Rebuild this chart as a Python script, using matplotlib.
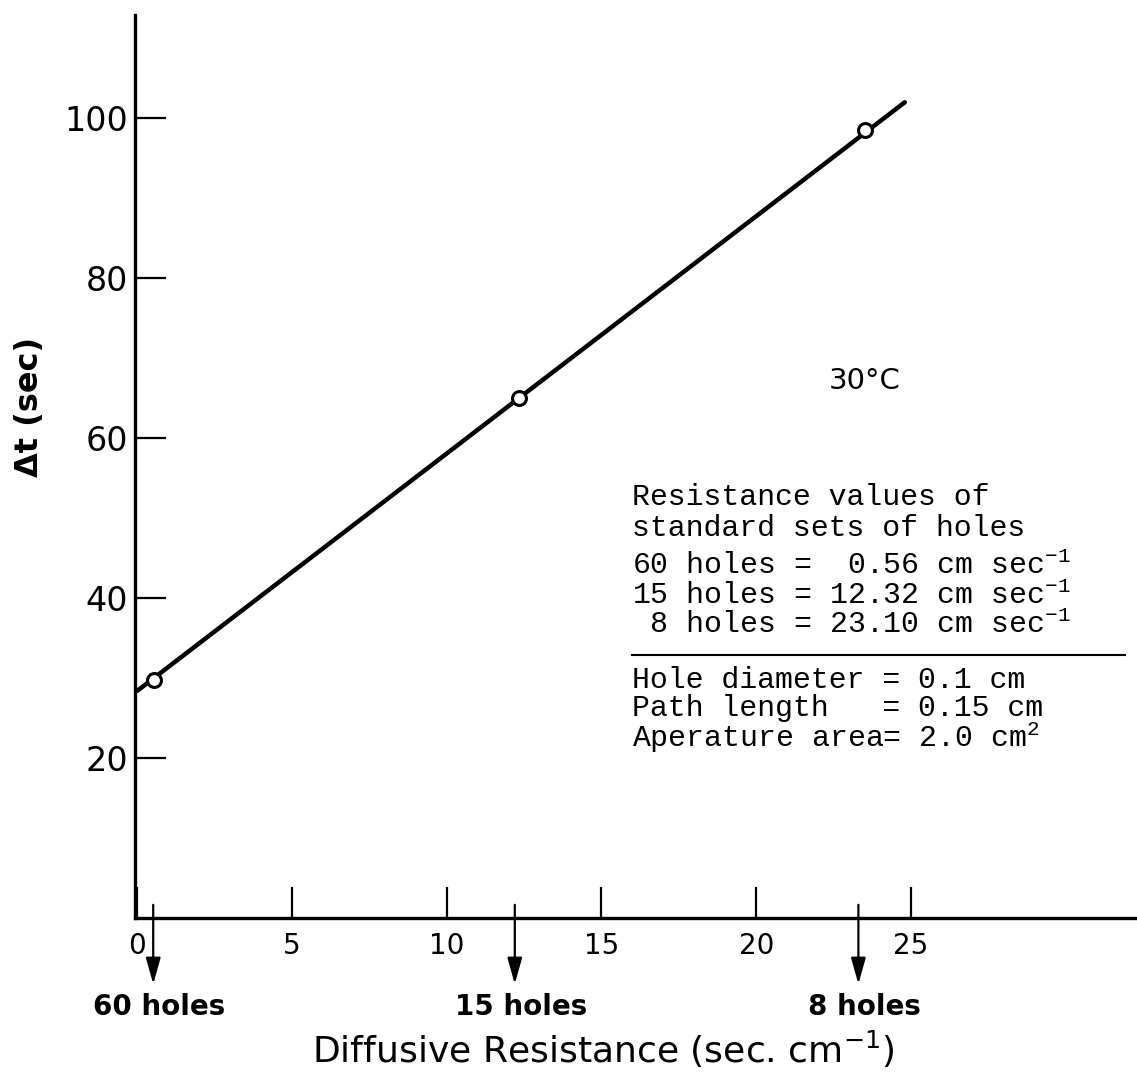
import matplotlib
matplotlib.use("Agg")
import matplotlib.pyplot as plt

plt.rcParams['mathtext.default'] = 'regular'

# measured points (resistance, delta t)
resistance = [0.56, 12.34, 23.5]
delta_t = [29.8, 65.0, 98.5]

# fitted line drawn on the graph
line_x = [0.0, 24.8]
line_y = [28.4, 102.0]

# standard hole sets marked under the axis
hole_sets = ["60 holes", "15 holes", "8 holes"]
hole_res = [0.52, 12.2, 23.3]

x_ticks = [0, 5, 10, 15, 20, 25]
y_ticks = [20, 40, 60, 80, 100]

note_lines = [
    "Resistance values of",
    "standard sets of holes",
    "60 holes =  0.56 cm sec$^{-1}$",
    "15 holes = 12.32 cm sec$^{-1}$",
    " 8 holes = 23.10 cm sec$^{-1}$",
    "Hole diameter = 0.1 cm",
    "Path length   = 0.15 cm",
    "Aperature area= 2.0 cm$^{2}$",
]
note_y = [52.6, 48.8, 44.1, 40.4, 36.7, 29.7, 26.2, 22.6]

fig = plt.figure(figsize=(11.37, 10.84), dpi=100)
ax = fig.add_axes([0.1187, 0.1531, 0.8813, 0.833])

ax.plot(line_x, line_y, color='black', lw=3.2, solid_capstyle='round', zorder=2)
ax.plot(resistance, delta_t, 'o', ms=10, mfc='white', mec='black', mew=2.2, zorder=3)

ax.set_xlim(-0.07, 32.3)
ax.set_ylim(0, 112.9)

for s in ['top', 'right']:
    ax.spines[s].set_visible(False)
for s in ['left', 'bottom']:
    ax.spines[s].set_linewidth(2.4)

ax.set_xticks(x_ticks)
ax.set_yticks(y_ticks)
ax.tick_params(axis='x', direction='in', length=22, width=1.6, pad=10, labelsize=20)
ax.tick_params(axis='y', direction='in', length=22, width=1.6, pad=5, labelsize=24)

ax.set_ylabel(u"\u0394t (sec)", fontsize=23, fontweight='bold')
ax.yaxis.set_label_coords(-0.09, 0.566)
ax.set_xlabel("Diffusive Resistance (sec. cm$^{-1}$)", fontsize=26)
ax.xaxis.label.set_va('center')
ax.xaxis.set_label_coords(0.467, -0.146)

# arrows pointing at the standard hole sets
for name, r in zip(hole_sets, hole_res):
    ax.annotate("", xy=(r, -8.6), xytext=(r, 2.0), xycoords='data',
                annotation_clip=False,
                arrowprops=dict(arrowstyle='-|>,head_length=1.6,head_width=0.45',
                                color='black', lw=1.6))
    ax.text(r + 0.2, -11.1, name, ha='center', va='center', fontsize=20,
            fontweight='bold', clip_on=False)

ax.text(23.5, 67.2, u"30\u00b0C", ha='center', va='center', fontsize=21)

for line, y in zip(note_lines, note_y):
    ax.text(16.0, y, line, ha='left', va='center', fontsize=21.5,
            family=['Liberation Mono', 'DejaVu Sans Mono'])
ax.plot([16.0, 31.9], [32.9, 32.9], color='black', lw=1.5)

fig.savefig("out.png", dpi=100)
